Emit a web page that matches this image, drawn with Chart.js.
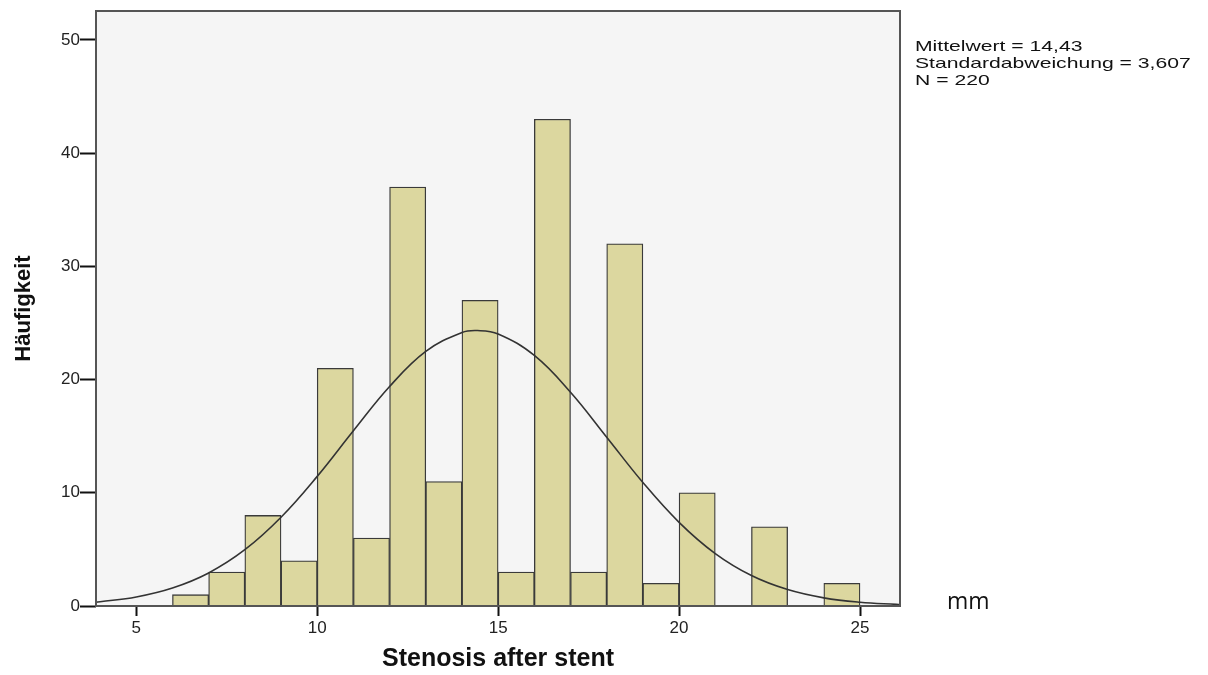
<!DOCTYPE html>
<html>
<head>
<meta charset="utf-8">
<script src="https://cdn.jsdelivr.net/npm/chart.js@4"></script>
<style>
  html, body { margin: 0; padding: 0; background: #fff; }
  #wrap { width: 1208px; height: 675px; position: relative; }
</style>
</head>
<body>
<div id="wrap"><canvas id="c" width="1208" height="675"></canvas></div>
<script>
// Histogramm: Klassen von 1 mm Breite (Startwert) und Häufigkeiten
const binStarts = [6, 7, 8, 9, 10, 11, 12, 13, 14, 15, 16, 17, 18, 19, 20, 21, 22, 23, 24];
const binCounts = [1, 3, 8, 4, 21, 6, 37, 11, 27, 3, 43, 3, 32, 2, 10, 0, 7, 0, 2];

// Normalverteilungskurve
const curveX = [3.9, 4, 5, 6, 7, 8, 9, 10, 11, 12, 13, 14, 14.43, 15, 16, 17, 18, 19, 20, 21, 22, 23, 24, 25, 26, 26.1];
const curveY = [0.34, 0.37, 0.8, 1.59, 2.92, 4.97, 7.84, 11.45, 15.48, 19.39, 22.49, 24.16, 24.33, 24.03, 22.13, 18.88, 14.91, 10.91, 7.39, 4.63, 2.69, 1.45, 0.72, 0.33, 0.14, 0.13];

const yTicks = [0, 10, 20, 30, 40, 50];
const xTicks = [5, 10, 15, 20, 25];
const statLines = ['Mittelwert = 14,43', 'Standardabweichung = 3,607', 'N = 220'];
const unitLabel = 'mm';

const ink = '#222';

// Hintergrund + Rahmen der Zeichenfläche, Statistik-Text rechts
const frame = {
  id: 'frame',
  beforeDatasetsDraw(chart) {
    const { ctx, chartArea: a } = chart;
    ctx.save();
    ctx.fillStyle = '#f5f5f5';
    ctx.fillRect(a.left, a.top, a.right - a.left, a.bottom - a.top);
    ctx.restore();
  },
  afterDraw(chart) {
    const { ctx, chartArea: a } = chart;
    ctx.save();
    ctx.strokeStyle = '#555';
    ctx.lineWidth = 2;
    ctx.strokeRect(a.left, a.top, a.right - a.left, a.bottom - a.top);

    ctx.fillStyle = '#111';
    ctx.font = '15px "Liberation Sans", Arial, sans-serif';
    ctx.textBaseline = 'middle';
    statLines.forEach((t, i) => {
      ctx.save();
      ctx.translate(a.right + 15, 47 + i * 17);
      ctx.scale(1.41, 1);
      ctx.fillText(t, 0, 0);
      ctx.restore();
    });

    ctx.font = '23px "Open Sans", sans-serif';
    ctx.fillText(unitLabel, a.right + 47, 602);
    ctx.restore();
  },
};

new Chart(document.getElementById('c'), {
  type: 'bar',
  data: {
    datasets: [
      {
        type: 'line',
        data: curveX.map((x, i) => ({ x, y: curveY[i] })),
        borderColor: '#333',
        borderWidth: 1.6,
        pointRadius: 0,
        tension: 0.4,
        fill: false,
        order: 1,
      },
      {
        data: binStarts.map((s, i) => ({ x: s + 0.5, y: binCounts[i] })),
        backgroundColor: '#dcd79f',
        borderColor: '#3a3a3a',
        borderWidth: 1.3,
        barPercentage: 1,
        categoryPercentage: 1,
        order: 2,
      },
    ],
  },
  options: {
    responsive: false,
    animation: false,
    layout: { padding: { left: 0, top: 11, right: 308, bottom: 0 } },
    plugins: { legend: { display: false }, tooltip: { enabled: false } },
    scales: {
      x: {
        type: 'linear',
        min: 3.887,
        max: 26.105,
        offset: false,
        afterFit: (s) => { s.height = 69; },
        afterBuildTicks: (s) => { s.ticks = xTicks.map((v) => ({ value: v })); },
        grid: { offset: false, drawOnChartArea: false, tickLength: 10, tickWidth: 2, tickColor: '#111' },
        border: { display: false },
        ticks: { color: ink, padding: 2, maxRotation: 0, font: { family: '"Liberation Sans", Arial', size: 17 } },
        title: {
          display: true,
          text: 'Stenosis after stent',
          color: '#111',
          padding: { bottom: 1 },
          font: { family: '"Liberation Sans", Arial', size: 25, weight: 'bold' },
        },
      },
      y: {
        min: 0,
        max: 52.56,
        afterFit: (s) => { s.width = 96; },
        afterBuildTicks: (s) => { s.ticks = yTicks.map((v) => ({ value: v })); },
        grid: { drawOnChartArea: false, tickLength: 16, tickWidth: 2, tickColor: '#111' },
        border: { display: false },
        ticks: { color: ink, padding: 0, font: { family: '"Liberation Sans", Arial', size: 17 } },
        title: {
          display: true,
          text: 'Häufigkeit',
          color: '#111',
          padding: { top: 11 },
          font: { family: '"Liberation Sans", Arial', size: 22, weight: 'bold' },
        },
      },
    },
  },
  plugins: [frame],
});
</script>
</body>
</html>
